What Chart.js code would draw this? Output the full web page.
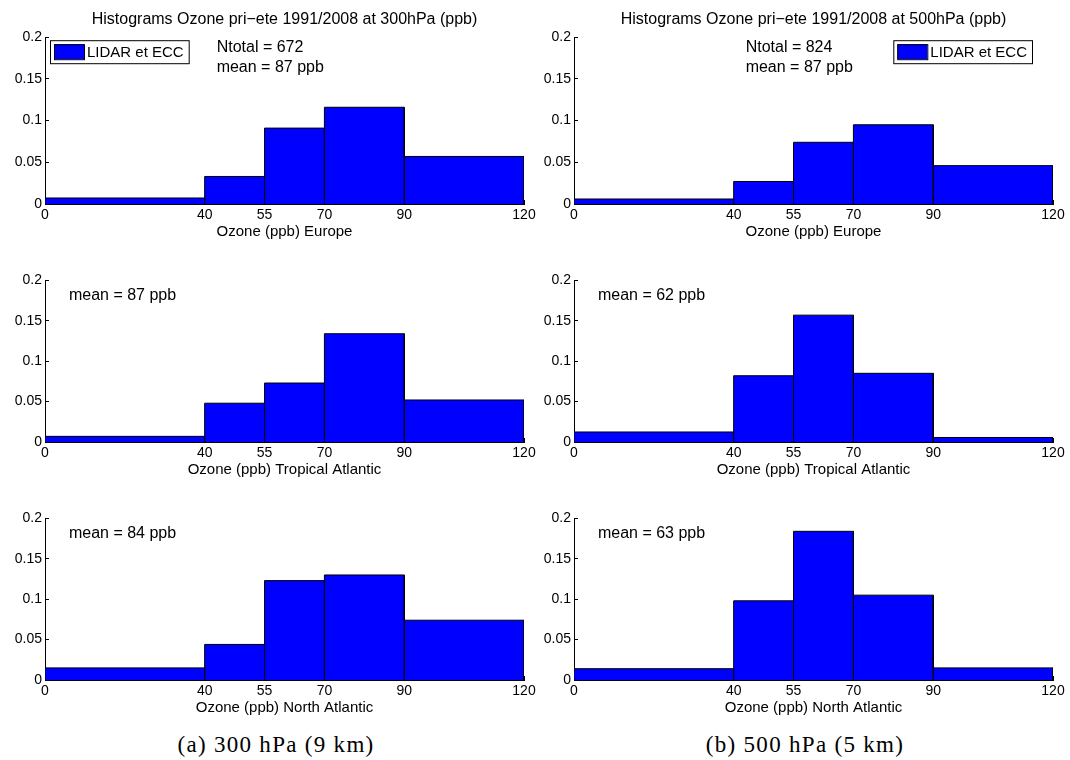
<!DOCTYPE html>
<html>
<head>
<meta charset="utf-8">
<script src="https://cdn.jsdelivr.net/npm/chart.js@4.4.1/dist/chart.umd.min.js"></script>
<style>
  body { margin: 0; background: #fff; overflow: hidden; }
  #wrap { position: relative; width: 1070px; height: 760px; overflow: hidden; }
  canvas { position: absolute; }
  .caption {
    position: absolute; top: 732px; line-height: 26px;
    font-family: "Liberation Serif", "Times New Roman", serif;
    font-size: 23px; letter-spacing: 1.3px; color: #000;
    transform: translateX(-50%); white-space: nowrap;
  }
</style>
</head>
<body>
<div id="wrap">
  <canvas id="c300eu" width="543" height="236" style="left:0;top:8px"></canvas>
  <canvas id="c500eu" width="543" height="236" style="left:529px;top:8px"></canvas>
  <canvas id="c300ta" width="543" height="217" style="left:0;top:265px"></canvas>
  <canvas id="c500ta" width="543" height="217" style="left:529px;top:265px"></canvas>
  <canvas id="c300na" width="543" height="217" style="left:0;top:503px"></canvas>
  <canvas id="c500na" width="543" height="217" style="left:529px;top:503px"></canvas>
  <div class="caption" style="left:276px">(a) 300 hPa (9 km)</div>
  <div class="caption" style="left:805px">(b) 500 hPa (5 km)</div>
</div>
<script>
// bornes des classes (ppb) et graduations
const binEdges = [0, 40, 55, 70, 90, 120]
const yTicks = [0, 0.05, 0.1, 0.15, 0.2]

// fréquences
const europe300 = [0.0072, 0.033, 0.091, 0.116, 0.057]
const europe500 = [0.006, 0.027, 0.074, 0.095, 0.046]
const tropical300 = [0.007, 0.048, 0.073, 0.134, 0.052]
const tropical500 = [0.0124, 0.082, 0.157, 0.085, 0.0056]
const northAtl300 = [0.015, 0.044, 0.123, 0.130, 0.074]
const northAtl500 = [0.014, 0.098, 0.184, 0.105, 0.015]

const seriesLabel = 'LIDAR et ECC'
const title300 = 'Histograms Ozone pri\u2212ete 1991/2008 at 300hPa (ppb)'
const title500 = 'Histograms Ozone pri\u2212ete 1991/2008 at 500hPa (ppb)'
const xTitles = ['Ozone (ppb) Europe', 'Ozone (ppb) Tropical Atlantic', 'Ozone (ppb) North Atlantic']

Chart.defaults.font.family = '"Liberation Sans", Arial, Helvetica, sans-serif'
Chart.defaults.color = '#000'

// texte libre placé en coordonnées de données
const notesPlugin = {
  id: 'notes',
  afterDatasetsDraw(chart, args, opts) {
    if (!opts.items) return
    const { ctx, scales } = chart
    ctx.save()
    ctx.font = '16px ' + Chart.defaults.font.family
    ctx.fillStyle = '#000'
    ctx.textAlign = 'left'
    ctx.textBaseline = 'middle'
    opts.items.forEach((n) => {
      ctx.fillText(n.text, scales.x.getPixelForValue(n.x), scales.y.getPixelForValue(n.y))
    })
    ctx.restore()
  }
}

// légende encadrée façon matlab, dans la zone du graphe
const boxLegendPlugin = {
  id: 'boxLegend',
  afterDraw(chart, args, opts) {
    if (!opts.display) return
    const { ctx, chartArea } = chart
    const ds = chart.data.datasets[0]
    ctx.save()
    ctx.font = '15px ' + Chart.defaults.font.family
    const tw = ctx.measureText(ds.label).width
    const w = 4 + 30 + 3 + tw + 5
    const h = 23
    const left = opts.side === 'right' ? chartArea.right - 21 - w : chartArea.left + 5
    const top = chartArea.top + 3
    ctx.fillStyle = '#fff'
    ctx.fillRect(left, top, w, h)
    ctx.strokeStyle = '#000'
    ctx.lineWidth = 1
    ctx.strokeRect(left + 0.5, top + 0.5, w, h)
    ctx.fillStyle = ds.backgroundColor
    ctx.fillRect(left + 4, top + 4, 30, 15)
    ctx.strokeRect(left + 4.5, top + 4.5, 30, 15)
    ctx.fillStyle = '#000'
    ctx.textBaseline = 'middle'
    ctx.fillText(ds.label, left + 37, top + h / 2 + 1)
    ctx.restore()
  }
}

// contour de l'histogramme : chaque classe est un rectangle fermé jusqu'à 0
function histOutline(values) {
  const pts = []
  values.forEach((v, i) => {
    pts.push({ x: binEdges[i], y: 0 }, { x: binEdges[i], y: v },
             { x: binEdges[i + 1], y: v }, { x: binEdges[i + 1], y: 0 })
  })
  return pts
}

function makeHist(id, values, xTitle, title, notes, legendSide) {
  const ctx = document.getElementById(id).getContext('2d')
  return new Chart(ctx, {
    type: 'line',
    data: {
      datasets: [{
        label: seriesLabel,
        data: histOutline(values),
        borderColor: '#000',
        backgroundColor: '#0000ff',
        borderWidth: 1,
        fill: 'origin',
        tension: 0,
        pointRadius: 0
      }]
    },
    options: {
      responsive: false,
      animation: false,
      devicePixelRatio: 1,
      events: [],
      layout: { padding: { top: title ? 0 : 10, right: 19, left: 0, bottom: 0 } },
      plugins: {
        legend: { display: false },
        tooltip: { enabled: false },
        title: {
          display: !!title,
          text: title || '',
          fullSize: false,
          font: { size: 16, weight: 'normal' },
          padding: { top: 2, bottom: 8 }
        },
        notes: { items: notes },
        boxLegend: { display: !!legendSide, side: legendSide }
      },
      scales: {
        x: {
          type: 'linear',
          min: 0,
          max: 120,
          afterBuildTicks: (s) => { s.ticks = binEdges.map((v) => ({ value: v })) },
          afterFit: (s) => { s.height = 40 },
          grid: { drawOnChartArea: false, tickLength: -4, color: '#000' },
          border: { color: '#000', width: 1 },
          ticks: { font: { size: 14 }, padding: 7, maxRotation: 0, autoSkip: false },
          title: { display: true, text: xTitle, font: { size: 15 }, padding: { top: 0, bottom: 3 } }
        },
        y: {
          min: 0,
          max: 0.2,
          afterBuildTicks: (s) => { s.ticks = yTicks.map((v) => ({ value: v })) },
          afterFit: (s) => { s.width = 45 },
          grid: { drawOnChartArea: false, tickLength: -4, color: '#000' },
          border: { color: '#000', width: 1 },
          ticks: { font: { size: 14 }, padding: 7, callback: (v) => String(+v.toFixed(2)) }
        }
      }
    },
    plugins: [notesPlugin, boxLegendPlugin]
  })
}

const topNotes = (n, m) => [
  { x: 43, y: 0.187, text: 'Ntotal = ' + n },
  { x: 43, y: 0.164, text: 'mean = ' + m + ' ppb' }
]
const meanNote = (m) => [{ x: 6, y: 0.181, text: 'mean = ' + m + ' ppb' }]

makeHist('c300eu', europe300, xTitles[0], title300, topNotes(672, 87), 'left')
makeHist('c500eu', europe500, xTitles[0], title500, topNotes(824, 87), 'right')
makeHist('c300ta', tropical300, xTitles[1], null, meanNote(87))
makeHist('c500ta', tropical500, xTitles[1], null, meanNote(62))
makeHist('c300na', northAtl300, xTitles[2], null, meanNote(84))
makeHist('c500na', northAtl500, xTitles[2], null, meanNote(63))
</script>
</body>
</html>
